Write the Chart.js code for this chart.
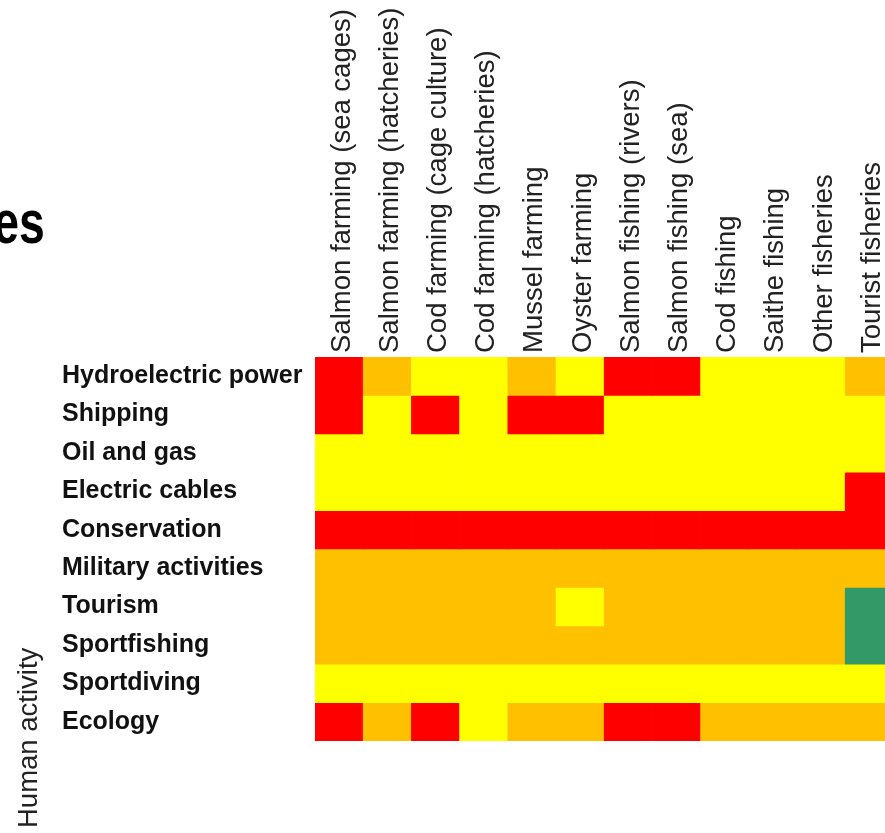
<!DOCTYPE html>
<html>
<head>
<meta charset="utf-8">
<script src="https://cdn.jsdelivr.net/npm/chart.js@4"></script>
<style>
    html, body { margin: 0; padding: 0; background: #fff; overflow: hidden; width: 885px; height: 833px; }
    #wrap { position: absolute; left: 0; top: 0; width: 895px; height: 833px; }
    #title {
        position: absolute; right: 840px; top: 192px;
        font: bold 61px 'Liberation Sans', Arial, sans-serif; line-height: 61px;
        white-space: nowrap; color: #000;
        transform: scaleX(0.76); transform-origin: right center;
    }
</style>
</head>
<body>
<div id="title">es</div>
<div id="wrap"><canvas id="heat"></canvas></div>
<script>
// columns: fisheries / aquaculture sectors
const sectors = [
    'Salmon farming (sea cages)', 'Salmon farming (hatcheries)', 'Cod farming (cage culture)',
    'Cod farming (hatcheries)', 'Mussel farming', 'Oyster farming', 'Salmon fishing (rivers)',
    'Salmon fishing (sea)', 'Cod fishing', 'Saithe fishing', 'Other fisheries', 'Tourist fisheries'
];

// rows: human activities
const activities = [
    'Hydroelectric power', 'Shipping', 'Oil and gas', 'Electric cables', 'Conservation',
    'Military activities', 'Tourism', 'Sportfishing', 'Sportdiving', 'Ecology'
];

// interaction level per cell: 0 = positive, 1 = low, 2 = medium, 3 = high conflict
const hydroelectric = [3, 2, 1, 1, 2, 1, 3, 3, 1, 1, 1, 2];
const shipping      = [3, 1, 3, 1, 3, 3, 1, 1, 1, 1, 1, 1];
const oilGas        = [1, 1, 1, 1, 1, 1, 1, 1, 1, 1, 1, 1];
const cables        = [1, 1, 1, 1, 1, 1, 1, 1, 1, 1, 1, 3];
const conservation  = [3, 3, 3, 3, 3, 3, 3, 3, 3, 3, 3, 3];
const military      = [2, 2, 2, 2, 2, 2, 2, 2, 2, 2, 2, 2];
const tourism       = [2, 2, 2, 2, 2, 1, 2, 2, 2, 2, 2, 0];
const sportfishing  = [2, 2, 2, 2, 2, 2, 2, 2, 2, 2, 2, 0];
const sportdiving   = [1, 1, 1, 1, 1, 1, 1, 1, 1, 1, 1, 1];
const ecology       = [3, 2, 3, 1, 2, 2, 3, 3, 2, 2, 2, 2];

const levelColors = ['#339966', '#ffff00', '#ffc000', '#ff0000'];

const grid = [hydroelectric, shipping, oilGas, cables, conservation,
              military, tourism, sportfishing, sportdiving, ecology];

// side label drawn straight on the canvas, bottom-up
const sideLabel = {
    id: 'sideLabel',
    afterDraw(chart) {
        const ctx = chart.ctx;
        ctx.save();
        ctx.translate(37, 828);
        ctx.rotate(-Math.PI / 2);
        ctx.font = "27.5px 'Liberation Sans', Arial, sans-serif";
        ctx.fillStyle = '#222';
        ctx.textAlign = 'left';
        ctx.textBaseline = 'alphabetic';
        ctx.fillText('Human activity', 0, 0);
        ctx.restore();
    }
};

const datasets = grid.map((levels, i) => ({
    label: activities[i],
    data: levels.map(() => 1),
    backgroundColor: levels.map(l => levelColors[l]),
    borderWidth: 0,
    borderSkipped: false,
    categoryPercentage: 1,
    barPercentage: 1
}));

new Chart(document.getElementById('heat'), {
    type: 'bar',
    data: { labels: sectors, datasets },
    options: {
        responsive: true,
        maintainAspectRatio: false,
        animation: false,
        layout: { padding: { left: 62, right: 1.6, top: 0, bottom: 92 } },
        plugins: { legend: { display: false }, tooltip: { enabled: false } },
        scales: {
            x: {
                position: 'top',
                stacked: true,
                grid: { display: false },
                border: { display: false },
                ticks: {
                    autoSkip: false,
                    maxRotation: 90,
                    minRotation: 90,
                    padding: -4,
                    labelOffset: 36,
                    color: '#222',
                    font: { family: "'Liberation Sans', Arial, sans-serif", size: 27.5 }
                },
                afterFit: s => { s.height = 357; }
            },
            y: {
                stacked: true,
                min: 0,
                max: activities.length,
                reverse: true,
                grid: { display: false },
                border: { display: false },
                afterBuildTicks: s => { s.ticks = activities.map((_, i) => ({ value: i + 0.5 })); },
                afterFit: s => { s.width = 253; },
                ticks: {
                    autoSkip: false,
                    crossAlign: 'far',
                    padding: 0,
                    color: '#111',
                    font: { family: "'Liberation Sans', Arial, sans-serif", size: 25, weight: 'bold' },
                    callback: v => activities[Math.floor(v)]
                }
            }
        }
    },
    plugins: [sideLabel]
});
</script>
</body>
</html>
